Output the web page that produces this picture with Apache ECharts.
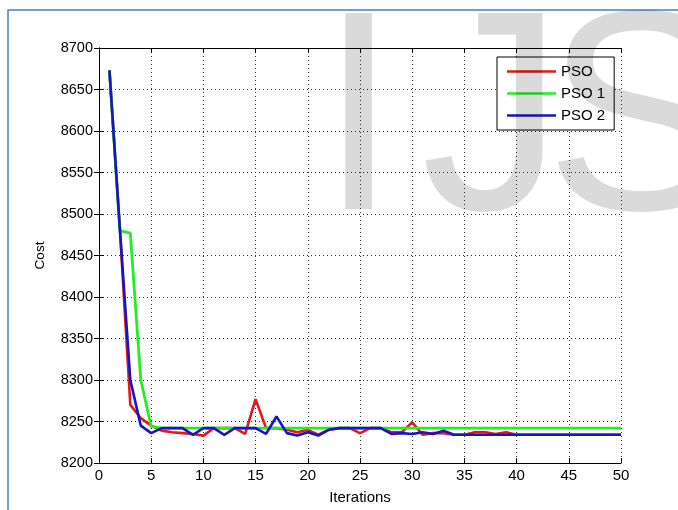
<!DOCTYPE html>
<html>
<head>
<meta charset="utf-8">
<script src="https://cdn.jsdelivr.net/npm/echarts@6/dist/echarts.min.js"></script>
<style>
html,body{margin:0;padding:0;background:#fff;}
#chart{width:678px;height:510px;}
</style>
</head>
<body>
<div id="chart"></div>
<script>
var iterations = [1,2,3,4,5,6,7,8,9,10,11,12,13,14,15,16,17,18,19,20,21,22,23,24,25,26,27,28,29,30,31,32,33,34,35,36,37,38,39,40,41,42,43,44,45,46,47,48,49,50];
var psoCost = [8673,8482,8270,8254,8245,8239,8237,8236,8235,8233,8242,8242,8242,8235,8277,8242,8242,8240,8237,8240,8234,8240,8242,8242,8236,8242,8242,8237,8237,8249,8234,8236,8236,8234,8234,8237,8237,8235,8237,8234,8234,8234,8234,8234,8234,8234,8234,8234,8234,8234];
var pso1Cost = [8673,8480,8477,8300,8244,8242,8242,8242,8242,8242,8242,8242,8242,8242,8242,8242,8242,8242,8242,8242,8242,8242,8242,8242,8242,8242,8242,8242,8242,8242,8242,8242,8242,8242,8242,8242,8242,8242,8242,8242,8242,8242,8242,8242,8242,8242,8242,8242,8242,8242];
var pso2Cost = [8673,8482,8300,8245,8236,8242,8242,8242,8234,8242,8242,8234,8242,8242,8242,8235,8256,8236,8233,8237,8233,8240,8242,8242,8242,8242,8242,8235,8236,8235,8237,8235,8239,8234,8234,8234,8234,8234,8234,8234,8234,8234,8234,8234,8234,8234,8234,8234,8234,8234];
var seriesNames = ['PSO','PSO 1','PSO 2'];
var xTicks = {min:0, max:50, interval:5};
var yTicks = {min:8200, max:8700, interval:50};
var watermarkLetters = ['I','J','S'];

function pairs(ys){ return iterations.map(function(x,i){ return [x, ys[i]]; }); }

var labelFont = "'Liberation Sans',Arial,sans-serif";
var chart = echarts.init(document.getElementById('chart'), null, {renderer:'canvas'});
var baseAxisLine = {show:true, lineStyle:{color:'#000', width:1}};
var tick = {show:true, inside:true, length:5, lineStyle:{color:'#000', width:1}};
var grid = {show:true, lineStyle:{color:'#333', width:1, type:[1,3]}};
var wmX = [319, 421, 545];
var wmGraphics = watermarkLetters.map(function(ch, i){
  return {type:'text', z:100, silent:true, x:wmX[i], y:-12,
    style:{text:ch, fontSize:285, fontFamily:'Liberation Sans', fill:'rgba(0,0,0,0.145)', textAlign:'left', textVerticalAlign:'top'}};
});
chart.setOption({
  animation:false,
  backgroundColor:'#fff',
  grid:{left:99, right:57, top:48, bottom:43, containLabel:false},
  graphic:[
    {type:'rect', z:90, silent:true, shape:{x:8, y:10, width:720, height:560}, style:{fill:'none', stroke:'#4a7ebb', lineWidth:1.5}}
  ].concat(wmGraphics),
  legend:{
    orient:'vertical', left:497, top:57, data:seriesNames,
    icon:'rect', itemWidth:49, itemHeight:2.5, itemGap:7,
    padding:[7,9,7,10], borderColor:'#000', borderWidth:1, backgroundColor:'#fff',
    textStyle:{fontFamily:'Liberation Sans', fontSize:15, color:'#000', lineHeight:15}
  },
  xAxis:[
    {type:'value', min:xTicks.min, max:xTicks.max, interval:xTicks.interval, position:'bottom',
     name:'Iterations', nameLocation:'middle', nameGap:27, nameTextStyle:{fontFamily:labelFont, fontSize:15, color:'#000'},
     axisLine:baseAxisLine, axisTick:tick, splitLine:grid,
     axisLabel:{fontFamily:labelFont, fontSize:15, color:'#000', margin:5}},
    {type:'value', min:xTicks.min, max:xTicks.max, interval:xTicks.interval, position:'top',
     axisLine:baseAxisLine, axisTick:tick, splitLine:{show:false}, axisLabel:{show:false}}
  ],
  yAxis:[
    {type:'value', min:yTicks.min, max:yTicks.max, interval:yTicks.interval, position:'left',
     name:'Cost', nameLocation:'middle', nameGap:52, nameTextStyle:{fontFamily:labelFont, fontSize:13.5, color:'#000'},
     axisLine:baseAxisLine, axisTick:tick, splitLine:grid,
     axisLabel:{fontFamily:labelFont, fontSize:14.5, color:'#000', margin:6, formatter:function(v){return String(v);}}},
    {type:'value', min:yTicks.min, max:yTicks.max, interval:yTicks.interval, position:'right',
     axisLine:baseAxisLine, axisTick:tick, splitLine:{show:false}, axisLabel:{show:false}}
  ],
  series:[
    {name:seriesNames[0], type:'line', data:pairs(psoCost), showSymbol:false, symbol:'none', lineStyle:{color:'#e01818', width:2.6}, itemStyle:{color:'#e01818'}, z:3},
    {name:seriesNames[1], type:'line', data:pairs(pso1Cost), showSymbol:false, symbol:'none', lineStyle:{color:'#22ee22', width:2.8}, itemStyle:{color:'#22ee22'}, z:4},
    {name:seriesNames[2], type:'line', data:pairs(pso2Cost), showSymbol:false, symbol:'none', lineStyle:{color:'#1414c8', width:2.6}, itemStyle:{color:'#1414c8'}, z:5}
  ]
});
</script>
</body>
</html>
